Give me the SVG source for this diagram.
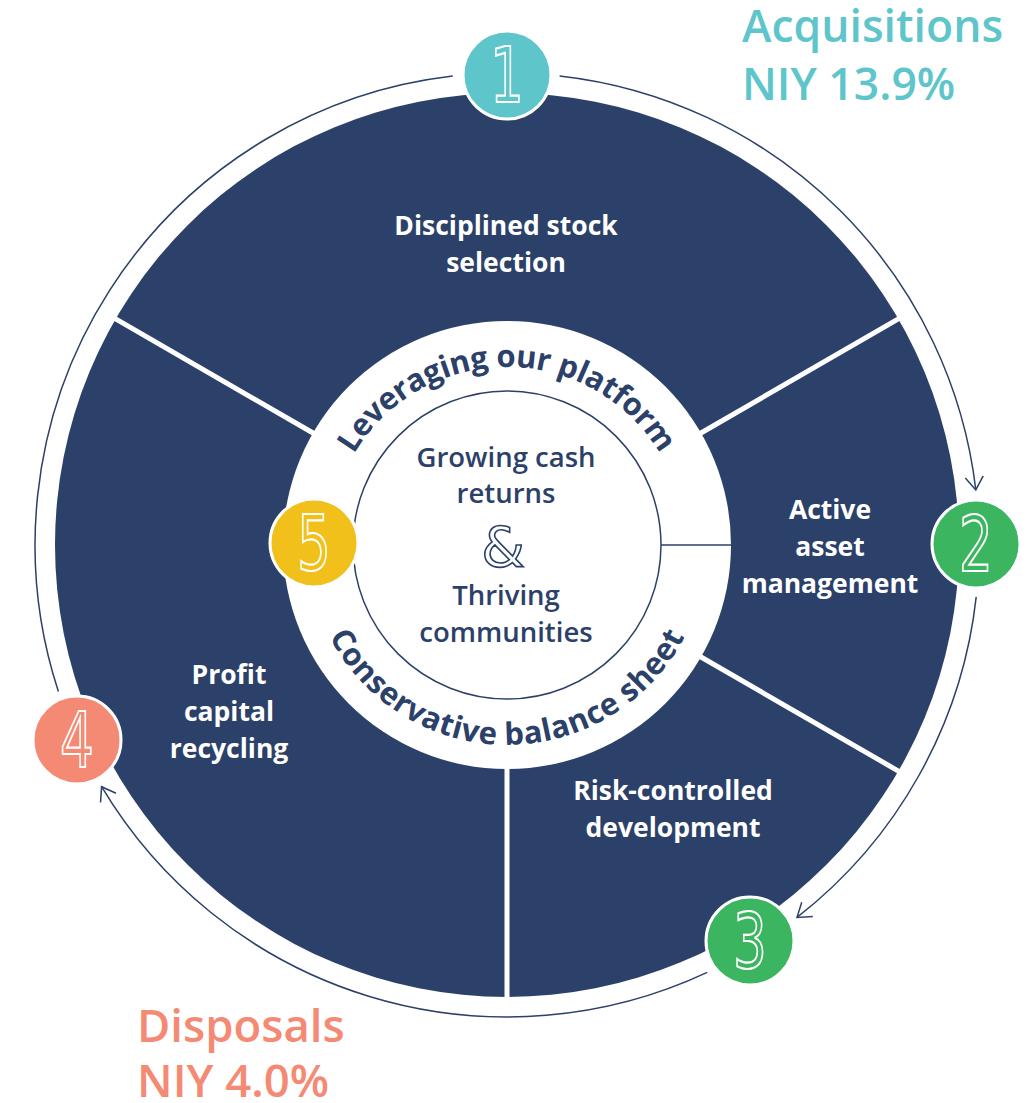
<svg xmlns="http://www.w3.org/2000/svg" width="1033" height="1103" viewBox="0 0 1033 1103">
<style>
.seg{font-family:"Open Sans","Liberation Sans",sans-serif;font-weight:700;font-size:26.5px;fill:#ffffff;text-anchor:middle}
.ctr{font-family:"Open Sans","Liberation Sans",sans-serif;font-weight:600;font-size:27.5px;fill:#2c4169;text-anchor:middle}
.ring{font-family:"Open Sans","Liberation Sans",sans-serif;font-weight:700;font-size:31px;fill:#2c4169}
.big{font-family:"Open Sans","Liberation Sans",sans-serif;font-weight:600}
.num{font-family:"DejaVu Sans",sans-serif;font-weight:400;font-size:76px;stroke:#ffffff;stroke-width:2.2;text-anchor:middle}
.arc{fill:none;stroke:#2c4169;stroke-width:1.5}
.div{stroke:#ffffff;stroke-width:5}
</style>
<defs>
<marker id="arr" markerUnits="userSpaceOnUse" markerWidth="30" markerHeight="30" refX="0" refY="0" viewBox="-20 -15 30 30" orient="auto">
<path d="M -13 -9 L 0 0 L -13 9" fill="none" stroke="#2c4169" stroke-width="1.5"/>
</marker>
<path id="topArc" d="M 339.7 484.1 A 178 178 0 0 1 674.3 484.1"/>
<path id="botArc" d="M 319.1 613.4 A 200 200 0 0 0 694.9 613.4"/>
</defs>

<g id="connectors">
<path class="arc" d="M 559.6 75.9 A 472 472 0 0 1 975.8 489.9" marker-end="url(#arr)"/>
<path class="arc" d="M 976.2 596.8 A 472 472 0 0 1 797.0 917.4" marker-end="url(#arr)"/>
<path class="arc" d="M 707.2 972.4 A 472 472 0 0 1 101.6 786.7" marker-end="url(#arr)"/>
<path class="arc" d="M 58.4 691.6 A 472 472 0 0 1 452.7 76.1"/>
</g>

<g id="wheel">
<circle cx="507" cy="545" r="452" fill="#2c4169"/>
<line class="div" x1="316.5" y1="435" x2="110" y2="315.7"/>
<line class="div" x1="697.5" y1="435" x2="904" y2="315.7"/>
<line class="div" x1="697.5" y1="655" x2="904" y2="774.3"/>
<line class="div" x1="507" y1="765" x2="507" y2="1000"/>
<circle cx="507" cy="545" r="224" fill="#ffffff"/>
<circle cx="507" cy="545" r="154" fill="none" stroke="#2c4169" stroke-width="1.5"/>
<line x1="661" y1="545" x2="731" y2="545" stroke="#2c4169" stroke-width="1.5"/>
</g>

<g id="seg-1">
<text class="seg" x="506" y="235">Disciplined stock</text>
<text class="seg" x="506" y="272">selection</text>
</g>
<g id="seg-2">
<text class="seg" x="830" y="519">Active</text>
<text class="seg" x="830" y="556">asset</text>
<text class="seg" x="830" y="593">management</text>
</g>
<g id="seg-3">
<text class="seg" x="673" y="800">Risk-controlled</text>
<text class="seg" x="673" y="837">development</text>
</g>
<g id="seg-4">
<text class="seg" x="229" y="684">Profit</text>
<text class="seg" x="229" y="721">capital</text>
<text class="seg" x="229" y="758">recycling</text>
</g>

<g id="ring-text">
<text class="ring"><textPath href="#topArc" startOffset="50%" text-anchor="middle" textLength="368" lengthAdjust="spacing">Leveraging our platform</textPath></text>
<text class="ring"><textPath href="#botArc" startOffset="50%" text-anchor="middle" textLength="438" lengthAdjust="spacing">Conservative balance sheet</textPath></text>
</g>

<g id="center">
<text class="ctr" x="506" y="467">Growing cash</text>
<text class="ctr" x="506" y="503">returns</text>
<text x="503" y="566" font-family="DejaVu Sans, sans-serif" font-size="56" fill="#ffffff" stroke="#2c4169" stroke-width="1.6" text-anchor="middle">&amp;</text>
<text class="ctr" x="506" y="605">Thriving</text>
<text class="ctr" x="506" y="642">communities</text>
</g>

<g id="node-1">
<circle cx="507" cy="75" r="44" fill="#5ec5cb" stroke="#ffffff" stroke-width="3"/>
<text class="num" fill="#5ec5cb" transform="translate(507 75) scale(0.7 1)" y="27">1</text>
</g>
<g id="node-2">
<circle cx="976" cy="544" r="44" fill="#3bb560" stroke="#ffffff" stroke-width="3"/>
<text class="num" fill="#3bb560" transform="translate(976 544) scale(0.7 1)" y="27">2</text>
</g>
<g id="node-3">
<circle cx="750" cy="941" r="44" fill="#3bb560" stroke="#ffffff" stroke-width="3"/>
<text class="num" fill="#3bb560" transform="translate(750 941) scale(0.7 1)" y="27">3</text>
</g>
<g id="node-4">
<circle cx="77" cy="740" r="44" fill="#f58a74" stroke="#ffffff" stroke-width="3"/>
<text class="num" fill="#f58a74" transform="translate(77 740) scale(0.7 1)" y="27">4</text>
</g>
<g id="node-5">
<circle cx="314" cy="543" r="44" fill="#f1c01b" stroke="#ffffff" stroke-width="3"/>
<text class="num" fill="#f1c01b" transform="translate(314 543) scale(0.7 1)" y="27">5</text>
</g>

<g id="acquisitions">
<text class="big" x="742" y="42" font-size="44.5" fill="#5ec5cb">Acquisitions</text>
<text class="big" x="742" y="100" font-size="44.5" fill="#5ec5cb">NIY 13.9%</text>
</g>
<g id="disposals">
<text class="big" x="137" y="1042" font-size="45.5" fill="#f58a74">Disposals</text>
<text class="big" x="137" y="1097" font-size="45.5" fill="#f58a74">NIY 4.0%</text>
</g>
</svg>
